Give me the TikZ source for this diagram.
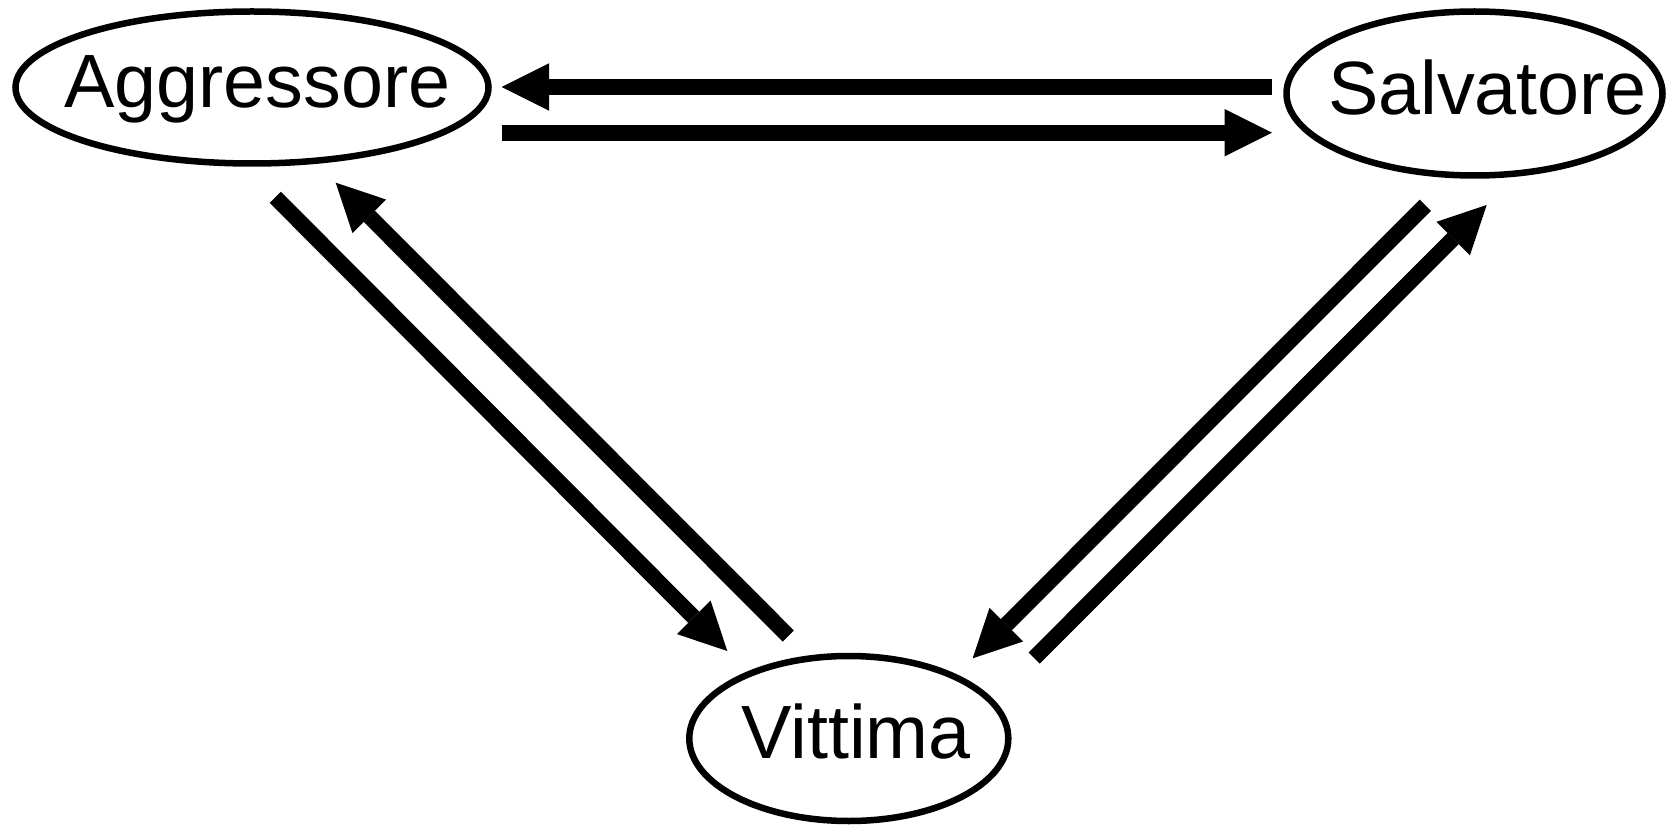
\documentclass[tikz,border=0pt]{standalone}
\usepackage{fontspec}
\setmainfont{Liberation Sans}
\usetikzlibrary{arrows.meta,shapes.geometric}
\begin{document}
\begin{tikzpicture}[x=1pt,y=-1pt,
  role/.style={draw, line width=6.5pt, ellipse, inner sep=0pt},
  lbl/.style={anchor=base, inner sep=0pt, font=\fontsize{75.5}{80}\selectfont},
  arr/.style={line width=15.8pt, -{Triangle[length=47.5pt,width=47.5pt,line width=0pt]}}]
\useasboundingbox (0,0) rectangle (1666,826);
% ellipses
\node[role, minimum width=473pt, minimum height=152pt] (agg) at (252,87.5) {};
\node[role, minimum width=376pt, minimum height=164pt] (sal) at (1474.5,93.5) {};
\node[role, minimum width=319pt, minimum height=165pt] (vit) at (848.8,738.5) {};
% labels
\node[lbl] (aggT) at (257.5,108) {Aggressore};
\node[lbl] (salT) at (1487.5,115) {Salvatore};
\node[lbl] (vitT) at (856,758) {Vittima};
% arrow end points
\coordinate (sa1) at (1272,87);
\coordinate (sa2) at (501.7,87);
\coordinate (as1) at (501.7,132.7);
\coordinate (as2) at (1272,132.7);
\coordinate (av1) at (275.3,197.3);
\coordinate (av2) at (727.3,651);
\coordinate (va1) at (788.3,636);
\coordinate (va2) at (335.7,182.7);
\coordinate (sv1) at (1425.3,205.3);
\coordinate (sv2) at (972.7,658.3);
\coordinate (vs1) at (1034.2,658);
\coordinate (vs2) at (1486.7,205);
% arrows
\draw[arr] (sa1) -- (sa2);
\draw[arr] (as1) -- (as2);
\draw[arr] (av1) -- (av2);
\draw[arr] (va1) -- (va2);
\draw[arr] (sv1) -- (sv2);
\draw[arr] (vs1) -- (vs2);
\end{tikzpicture}
\end{document}
